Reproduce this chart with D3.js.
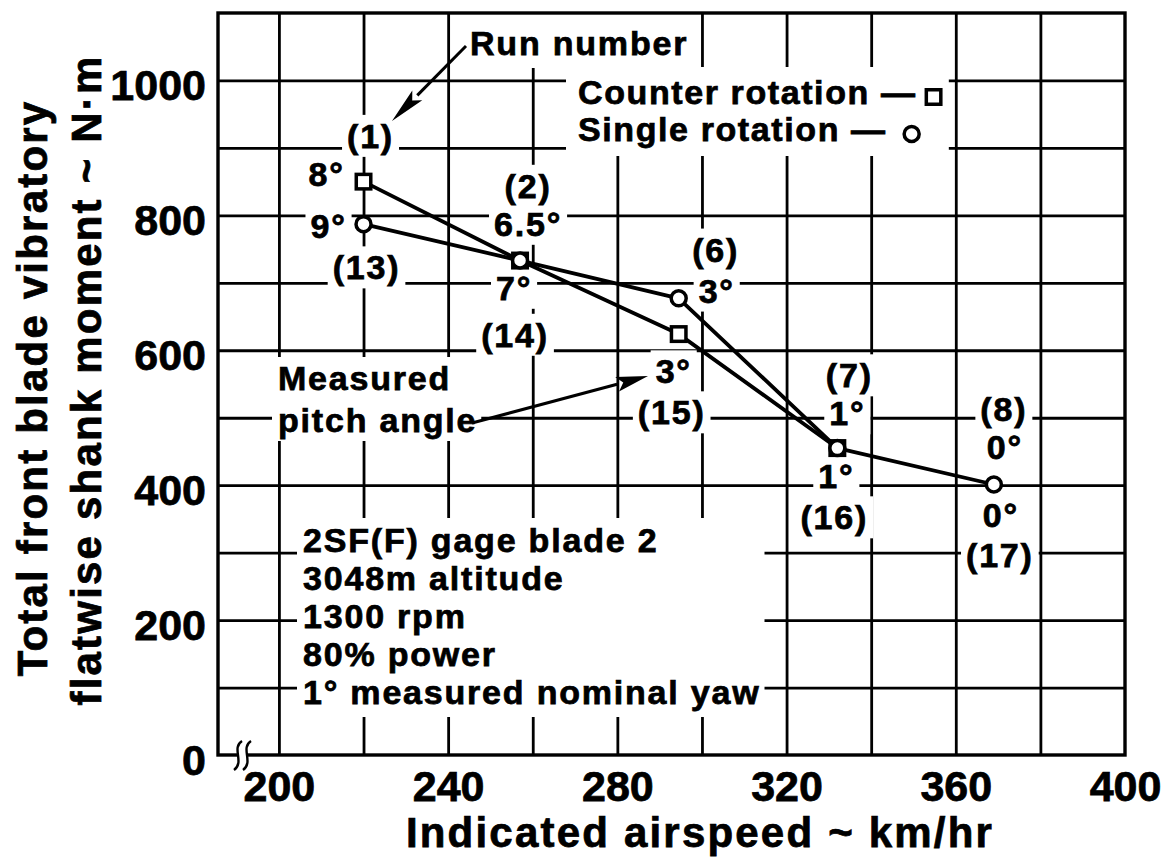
<!DOCTYPE html>
<html><head><meta charset="utf-8">
<script src="https://cdn.jsdelivr.net/npm/d3@7"></script>
<style>
html,body{margin:0;padding:0;background:#fff;}
svg{display:block;background:#fff;}
svg text{stroke:#000;stroke-width:0.75px;}
</style></head><body>
<svg id="chart" width="1173" height="860"></svg>
<script>
// ---------- data ----------
const speeds = [220, 257, 294.5, 332, 369];
const counterMoment = [850, 733, 624, 455];
const singleMoment = [787, 733, 677, 455, 401];
const upperRuns = ["(1)", "(2)", "(6)", "(7)", "(8)"];
const upperPitch = ["8°", "6.5°", "3°", "1°", "0°"];
const lowerPitch = ["9°", "7°", "3°", "1°", "0°"];
const lowerRuns = ["(13)", "(14)", "(15)", "(16)", "(17)"];
const xTicks = [200, 240, 280, 320, 360, 400];
const yTicks = [0, 200, 400, 600, 800, 1000];
const xGrid = [200, 220, 240, 260, 280, 300, 320, 340, 360, 380];
const yGrid = [100, 200, 300, 400, 500, 600, 700, 800, 900, 1000];
const seriesNames = ["Counter rotation", "Single rotation"];
const conditions = ["2SF(F) gage blade 2", "3048m altitude", "1300 rpm", "80% power", "1° measured nominal yaw"];
const xTitle = "Indicated airspeed ~ km/hr";
const yTitle = ["Total front blade vibratory", "flatwise shank moment ~ N·m"];
const runNote = "Run number";
const pitchNote = ["Measured", "pitch angle"];

// ---------- layout ----------
const FONT = '"Liberation Sans", Arial, Helvetica, sans-serif';
const M = {left: 218, right: 1125, top: 13, bottom: 755};
const svg = d3.select("#chart");
const x = d3.scaleLinear().domain([185.6, 400]).range([M.left, M.right]);
const y = d3.scaleLinear().domain([0, 1100]).range([M.bottom, M.top]);

// grid
const gridG = svg.append("g");
gridG.append("g").attr("transform", `translate(0,${M.bottom})`)
  .call(d3.axisBottom(x).tickValues(xGrid).tickSize(-(M.bottom - M.top)).tickFormat(""))
  .call(g => g.select(".domain").remove())
  .selectAll("line").attr("stroke", "#000").attr("stroke-width", 2.8);
gridG.append("g").attr("transform", `translate(${M.left},0)`)
  .call(d3.axisLeft(y).tickValues(yGrid).tickSize(-(M.right - M.left)).tickFormat(""))
  .call(g => g.select(".domain").remove())
  .selectAll("line").attr("stroke", "#000").attr("stroke-width", 2.8);

const maskG = svg.append("g");
const textG = svg.append("g").attr("font-family", FONT).attr("font-weight", "bold").attr("fill", "#000");
const masks = [];

function txt(parent, str, px, py, opts = {}) {
  const t = parent.append("text")
    .attr("x", px).attr("y", py)
    .attr("text-anchor", opts.anchor || "middle")
    .attr("font-size", opts.size || 34)
    .attr("letter-spacing", opts.ls !== undefined ? opts.ls : 1.8)
    .text(str);
  if (opts.dy) t.attr("dy", opts.dy);
  return t;
}
function addMask(node, pad) {
  masks.push({node, pad: pad || [5, 2, 5, 2]});
}

// point labels
const upperAnchor = [counterMoment[0], counterMoment[1], singleMoment[2], counterMoment[3], singleMoment[4]];
const lowerAnchor = [singleMoment[0], singleMoment[1], counterMoment[2], singleMoment[3], singleMoment[4]];
const upRunOff = [[7, -46], [8, -75], [37, -49], [12, -73], [10, -76]];
const upPitchOff = [[-37, -8], [8, -37], [38, -8], [10, -35], [11, -38]];
const lowPitchOff = [[-35, 2], [-6, 27], [-5, 37], [-1, 28], [7, 30]];
const lowRunOff = [[3, 43], [-5, 74], [-7, 78], [-3, 69], [6, 70]];
speeds.forEach((s, i) => {
  const ux = x(s), uy = y(upperAnchor[i]), ly = y(lowerAnchor[i]);
  addMask(txt(textG, upperRuns[i], ux + upRunOff[i][0], uy + upRunOff[i][1], {dy: "0.36em"}).node());
  addMask(txt(textG, upperPitch[i], ux + upPitchOff[i][0], uy + upPitchOff[i][1], {dy: "0.36em"}).node());
  addMask(txt(textG, lowerPitch[i], ux + lowPitchOff[i][0], ly + lowPitchOff[i][1], {dy: "0.36em"}).node());
  addMask(txt(textG, lowerRuns[i], ux + lowRunOff[i][0], ly + lowRunOff[i][1], {dy: "0.36em"}).node());
});

// Run number note
addMask(txt(textG, runNote, 470, 55, {anchor: "start"}).node(), [6, 14, 6, 6]);

// Measured pitch angle
const pitchG = textG.append("g");
pitchNote.forEach((s, i) => txt(pitchG, s, 278, 390 + i * 42, {anchor: "start"}));
addMask(pitchG.node(), [6, 2, 4, 2]);

// conditions block
const condG = textG.append("g");
conditions.forEach((s, i) => txt(condG, s, 303, 552 + i * 38, {anchor: "start"}));
addMask(condG.node(), [6, 3, 4, 6]);

// legend
const legG = textG.append("g");
const legT1 = txt(legG, seriesNames[0] + " —", 578, 104, {anchor: "start", ls: 1.6});
const legT2 = txt(legG, seriesNames[1] + " —", 578, 141, {anchor: "start", ls: 1.6});

// axis tick labels
const xLab = svg.append("g").attr("transform", `translate(0,${M.bottom})`)
  .call(d3.axisBottom(x).tickValues(xTicks).tickSize(0).tickPadding(15).tickFormat(d3.format("d")));
xLab.select(".domain").remove();
xLab.attr("font-family", FONT).attr("font-size", 43).attr("font-weight", "bold");
xLab.selectAll("text").attr("fill", "#000");

const yLab = svg.append("g").attr("transform", `translate(${M.left},0)`)
  .call(d3.axisLeft(y).tickValues(yTicks).tickSize(0).tickPadding(12).tickFormat(d3.format("d")));
yLab.select(".domain").remove();
yLab.attr("font-family", FONT).attr("font-size", 43).attr("font-weight", "bold");
yLab.selectAll("text").attr("fill", "#000").attr("dy", "0.45em");

// axis titles
txt(svg.append("g").attr("font-family", FONT).attr("font-weight", "bold"), xTitle, 700, 847, {size: 42, ls: 2.2});
const yt = svg.append("g").attr("font-family", FONT).attr("font-weight", "bold");
txt(yt, yTitle[0], 0, 0, {size: 42, ls: 2.2}).attr("transform", "translate(47,388) rotate(-90)");
txt(yt, yTitle[1], 0, 0, {size: 42, ls: 2.2}).attr("transform", "translate(101,380) rotate(-90)");

// legend markers (placed after text measured)
const sqS = 14.5, cr = 7.5;
const b1 = legT1.node().getBBox(), b2 = legT2.node().getBBox();
legG.append("rect").attr("x", b1.x + b1.width + 17 - sqS / 2).attr("y", 97 - sqS / 2)
  .attr("width", sqS).attr("height", sqS).attr("fill", "#fff").attr("stroke", "#000").attr("stroke-width", 3.5);
legG.append("circle").attr("cx", b2.x + b2.width + 25).attr("cy", 134).attr("r", cr)
  .attr("fill", "#fff").attr("stroke", "#000").attr("stroke-width", 3.5);
addMask(legG.node(), [12, 6, 8, 8]);

// masks (white boxes that interrupt the grid under text)
masks.forEach(m => {
  const b = m.node.getBBox();
  maskG.append("rect")
    .attr("x", b.x - m.pad[0])
    .attr("y", b.y - m.pad[1])
    .attr("width", b.width + m.pad[0] + m.pad[2])
    .attr("height", b.height + m.pad[1] + m.pad[3])
    .attr("fill", "#fff");
});

// frame
svg.append("rect").attr("x", M.left).attr("y", M.top)
  .attr("width", M.right - M.left).attr("height", M.bottom - M.top)
  .attr("fill", "none").attr("stroke", "#000").attr("stroke-width", 3.4);

// arrows
function arrow(x1, y1, x2, y2, len, hw) {
  const a = Math.atan2(y2 - y1, x2 - x1);
  const bx = x2 - len * Math.cos(a), by = y2 - len * Math.sin(a);
  svg.append("line").attr("x1", x1).attr("y1", y1).attr("x2", bx).attr("y2", by)
    .attr("stroke", "#000").attr("stroke-width", 3);
  const px = -Math.sin(a) * hw, py = Math.cos(a) * hw;
  svg.append("path")
    .attr("d", `M${x2},${y2}L${bx + px},${by + py}L${bx + len * 0.2 * Math.cos(a)},${by + len * 0.2 * Math.sin(a)}L${bx - px},${by - py}Z`)
    .attr("fill", "#000");
}
arrow(466, 46, 392, 121, 36, 7);
arrow(472, 423, 648, 376, 32, 7.5);

// data lines
const line = d3.line().x(d => x(d[0])).y(d => y(d[1]));
const counterPts = counterMoment.map((v, i) => [speeds[i], v]);
const singlePts = singleMoment.map((v, i) => [speeds[i], v]);
svg.append("path").datum(counterPts).attr("d", line).attr("fill", "none").attr("stroke", "#000").attr("stroke-width", 3.8).attr("stroke-linejoin", "round");
svg.append("path").datum(singlePts).attr("d", line).attr("fill", "none").attr("stroke", "#000").attr("stroke-width", 3.8).attr("stroke-linejoin", "round");

svg.append("g").selectAll("rect").data(counterPts).join("rect")
  .attr("x", d => x(d[0]) - sqS / 2).attr("y", d => y(d[1]) - sqS / 2)
  .attr("width", sqS).attr("height", sqS)
  .attr("fill", "#fff").attr("stroke", "#000").attr("stroke-width", 3.5);
svg.append("g").selectAll("circle").data(singlePts).join("circle")
  .attr("cx", d => x(d[0])).attr("cy", d => y(d[1])).attr("r", cr)
  .attr("fill", "#fff").attr("stroke", "#000").attr("stroke-width", 3.5);

// axis break symbol
const brk = svg.append("g");
brk.append("rect").attr("x", 239).attr("y", 748).attr("width", 8).attr("height", 14).attr("fill", "#fff");
[238, 247].forEach(cx => {
  brk.append("path")
    .attr("d", `M${cx + 4},741 C${cx - 7},748 ${cx + 7},762 ${cx - 4},770`)
    .attr("fill", "none").attr("stroke", "#000").attr("stroke-width", 2.4);
});
</script>
</body></html>
